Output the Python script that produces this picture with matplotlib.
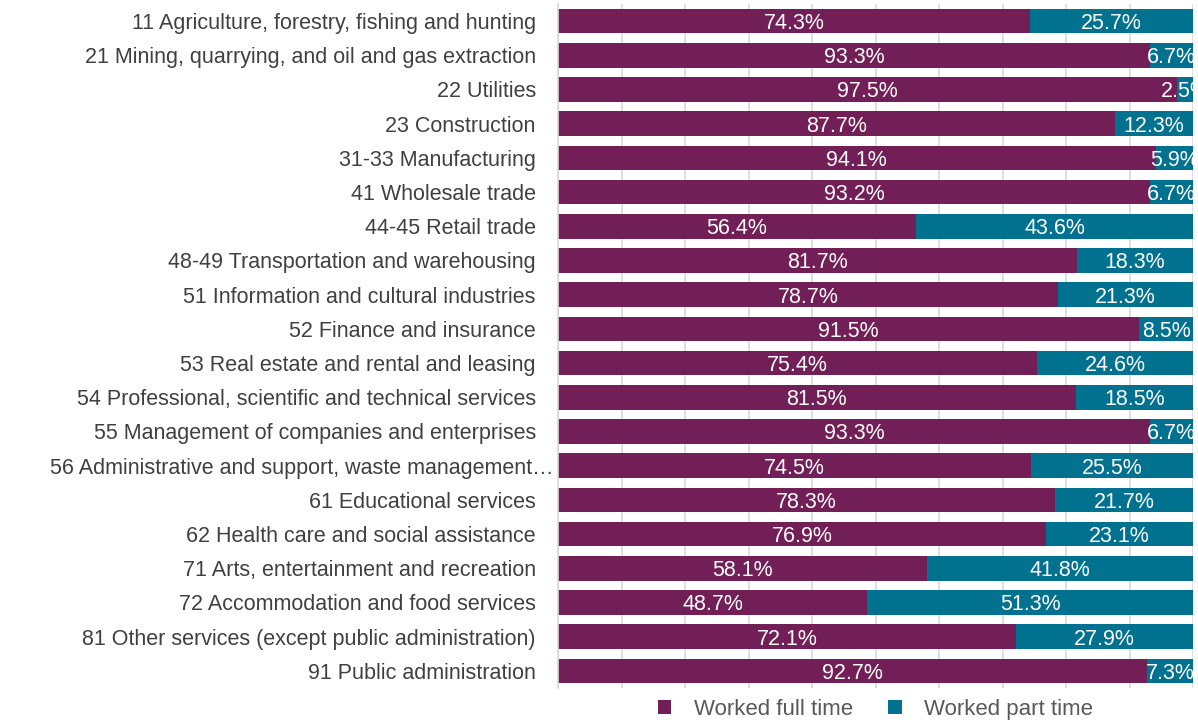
import matplotlib.pyplot as plt
import matplotlib.transforms as mtransforms
import numpy as np

# categories, top to bottom
industries = [
    '11 Agriculture, forestry, fishing and hunting',
    '21 Mining, quarrying, and oil and gas extraction',
    '22 Utilities',
    '23 Construction',
    '31-33 Manufacturing',
    '41 Wholesale trade',
    '44-45 Retail trade',
    '48-49 Transportation and warehousing',
    '51 Information and cultural industries',
    '52 Finance and insurance',
    '53 Real estate and rental and leasing',
    '54 Professional, scientific and technical services',
    '55 Management of companies and enterprises',
    '56 Administrative and support, waste management\u2026',
    '61 Educational services',
    '62 Health care and social assistance',
    '71 Arts, entertainment and recreation',
    '72 Accommodation and food services',
    '81 Other services (except public administration)',
    '91 Public administration',
]
full_time = [74.3, 93.3, 97.5, 87.7, 94.1, 93.2, 56.4, 81.7, 78.7, 91.5,
             75.4, 81.5, 93.3, 74.5, 78.3, 76.9, 58.1, 48.7, 72.1, 92.7]
part_time = [25.7, 6.7, 2.5, 12.3, 5.9, 6.7, 43.6, 18.3, 21.3, 8.5,
             24.6, 18.5, 6.7, 25.5, 21.7, 23.1, 41.8, 51.3, 27.9, 7.3]
part_labels = ['25.7%', '6.7%', '2.5%', '12.3%', '5.9%', '6.7%', '43.6%', '18.3%', '21.3%', '8.5%',
               '24.6%', '18.5%', '6.7%', '25.5%', '21.7%', '23.1%', '41.8%', '51.3%', '27.9%', '7.3%']

purple = '#721F57'
teal = '#00718F'
txt_gray = '#404040'

plt.rcParams['font.family'] = ['Liberation Sans', 'DejaVu Sans']

fig = plt.figure(figsize=(11.98, 7.22), dpi=100)
ax = fig.add_axes([558 / 1198, 1 - 688 / 722, (1193 - 558) / 1198, (688 - 4) / 722])

y = np.arange(len(industries))
ft = np.array(full_time)
pt = np.array(part_time)
total = ft + pt
ft_s = ft / total * 100
pt_s = pt / total * 100

ax.barh(y, ft_s, height=0.72, color=purple, label='Worked full time', zorder=2)
ax.barh(y, pt_s, left=ft_s, height=0.72, color=teal, label='Worked part time', zorder=2)

for i in range(len(industries)):
    ax.text(ft_s[i] / 2, y[i], f'{full_time[i]:.1f}%', ha='center', va='center_baseline',
            color='white', fontsize=15.5, zorder=3, clip_on=True)
    ax.text(ft_s[i] + pt_s[i] / 2, y[i], part_labels[i], ha='center', va='center_baseline',
            color='white', fontsize=15.5, zorder=3, clip_on=True)

ax.set_xlim(0, 100)
ax.set_ylim(len(industries) - 0.5, -0.5)
ax.set_yticks(y)
ax.set_yticklabels(industries, fontsize=15.5, color=txt_gray)
ax.set_xticks(np.arange(0, 101, 10))
ax.set_xticklabels([])
ax.tick_params(axis='x', length=0)
ax.tick_params(axis='y', length=0, pad=16)
ax.grid(axis='x', color='#D9D9D9', linewidth=1.2, zorder=0)
for s in ['top', 'right', 'bottom']:
    ax.spines[s].set_visible(False)
ax.spines['left'].set_color('#D9D9D9')
ax.spines['left'].set_linewidth(1.2)

# the truncated label sits closer to the axis, as in the original
long_lbl = ax.get_yticklabels()[13]
long_lbl.set_transform(long_lbl.get_transform() +
                       mtransforms.ScaledTranslation(18 / 100, 0, fig.dpi_scale_trans))

ax.legend(loc='center', bbox_to_anchor=(0.5, -0.031), ncol=2, frameon=False,
          fontsize=16, handlelength=0.6, handleheight=0.6, columnspacing=1.6,
          handletextpad=1.0, labelcolor='#595959')

fig.savefig('out.png', dpi=100)
